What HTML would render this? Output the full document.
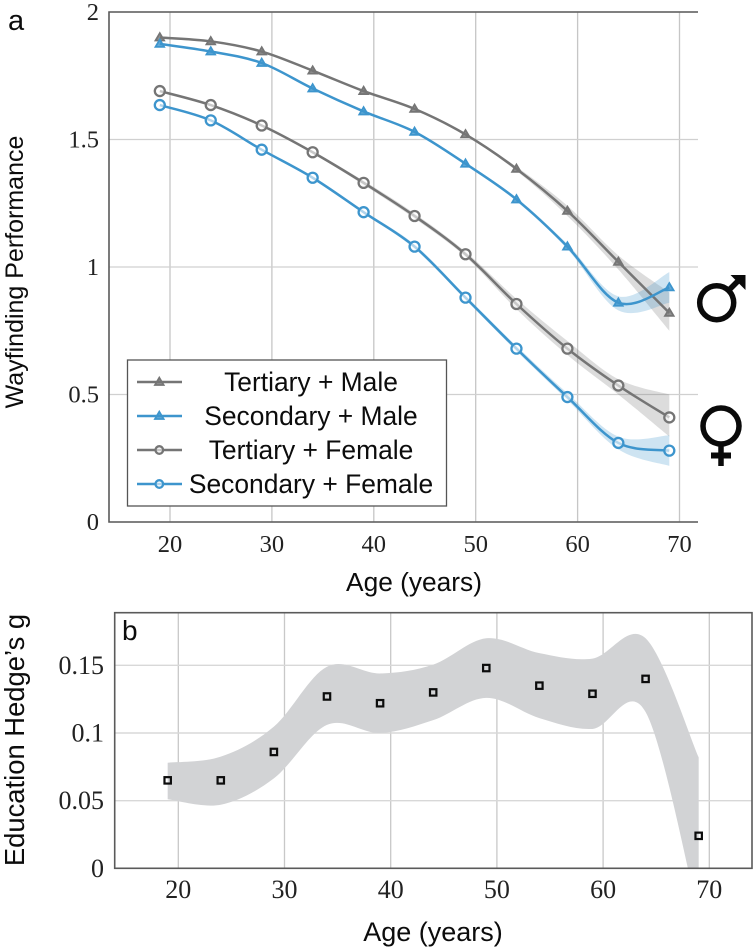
<!DOCTYPE html>
<html lang="en">
<head>
<meta charset="utf-8">
<title>Wayfinding performance by age</title>
<style>
html,body{margin:0;padding:0;background:#fff;}
body{width:756px;height:949px;overflow:hidden;}
svg{display:block;}
.sans{font-family:"Liberation Sans",sans-serif;fill:#0c0c0c;}
.serif{font-family:"Liberation Serif",serif;fill:#222;}
</style>
</head>
<body>
<svg id="fig" xmlns="http://www.w3.org/2000/svg" width="756" height="949" viewBox="0 0 756 949">
  <defs>
    <clipPath id="clipB"><rect x="115" y="613" width="637" height="255.5"/></clipPath>
  </defs>
  <g id="panelA"></g>
  <g id="panelB"></g>
  <text class="sans" x="8" y="30" font-size="29">a</text>
  <text class="sans" x="122" y="640" font-size="28">b</text>
  <text class="sans" x="0" y="0" font-size="25" text-anchor="middle" transform="translate(23,272) rotate(-90)">Wayfinding Performance</text>
  <text class="sans" x="414" y="591" font-size="26.3" text-anchor="middle">Age (years)</text>
  <text class="sans" x="0" y="0" font-size="27.4" text-anchor="middle" transform="translate(24,740) rotate(-90)">Education Hedge’s g</text>
  <text class="sans" x="433" y="941" font-size="27" text-anchor="middle">Age (years)</text>
  <g fill="none" stroke="#0a0a0a" stroke-width="5.5">
    <circle cx="716.7" cy="302.7" r="17"/>
    <path d="M729 290L741 278"/>
    <path d="M730.5 275H745.5V290Z" fill="#0a0a0a" stroke="none"/>
  </g>
  <g fill="none" stroke="#0a0a0a" stroke-width="5.5">
    <circle cx="721" cy="426" r="18"/>
    <path d="M721 444V466"/>
    <path d="M711 455.5H731" stroke-width="6"/>
  </g>
</svg>
<script>
var ages = [19, 24, 29, 34, 39, 44, 49, 54, 59, 64, 69];
var xTicks = [20, 30, 40, 50, 60, 70];
var yTicksA = [0, 0.5, 1, 1.5, 2];
var yTicksB = [0, 0.05, 0.1, 0.15];

var tertiaryMale = [1.90, 1.885, 1.845, 1.77, 1.69, 1.62, 1.52, 1.385, 1.22, 1.02, 0.82];
var tertiaryMaleUpper = [1.90, 1.885, 1.845, 1.772, 1.693, 1.625, 1.525, 1.393, 1.24, 1.045, 0.90];
var tertiaryMaleLower = [1.895, 1.88, 1.84, 1.768, 1.687, 1.615, 1.515, 1.377, 1.20, 0.99, 0.75];

var secondaryMale = [1.875, 1.845, 1.80, 1.70, 1.61, 1.53, 1.405, 1.265, 1.08, 0.86, 0.92];
var secondaryMaleUpper = [1.878, 1.848, 1.803, 1.703, 1.613, 1.535, 1.41, 1.272, 1.09, 0.885, 0.98];
var secondaryMaleLower = [1.872, 1.842, 1.797, 1.697, 1.607, 1.525, 1.40, 1.258, 1.07, 0.83, 0.86];

var tertiaryFemale = [1.69, 1.635, 1.555, 1.45, 1.33, 1.20, 1.05, 0.855, 0.68, 0.535, 0.41];
var tertiaryFemaleUpper = [1.693, 1.638, 1.558, 1.455, 1.338, 1.21, 1.06, 0.875, 0.71, 0.56, 0.50];
var tertiaryFemaleLower = [1.687, 1.632, 1.552, 1.445, 1.322, 1.19, 1.04, 0.835, 0.655, 0.50, 0.335];

var secondaryFemale = [1.635, 1.575, 1.46, 1.35, 1.215, 1.08, 0.88, 0.68, 0.49, 0.31, 0.28];
var secondaryFemaleUpper = [1.637, 1.578, 1.463, 1.354, 1.22, 1.088, 0.888, 0.69, 0.505, 0.335, 0.34];
var secondaryFemaleLower = [1.633, 1.572, 1.457, 1.346, 1.21, 1.072, 0.872, 0.67, 0.478, 0.285, 0.22];

var hedgesG = [0.065, 0.065, 0.086, 0.127, 0.122, 0.130, 0.148, 0.135, 0.129, 0.140, 0.024];
var hedgesUpper = [0.078, 0.0825, 0.1047, 0.149, 0.144, 0.1505, 0.170, 0.159, 0.155, 0.170, 0.082];
var hedgesLower = [0.051, 0.047, 0.0665, 0.106, 0.100, 0.1095, 0.126, 0.111, 0.103, 0.1155, -0.035];

var legendLabels = ["Tertiary + Male", "Secondary + Male", "Tertiary + Female", "Secondary + Female"];

var GREY = "#757575";
var BLUE = "#3d95cd";
var NS = "http://www.w3.org/2000/svg";

function xA(v) { return 170 + (v - 20) * 10.19; }
function yA(v) { return 522 - v * 255; }
function xB(v) { return 178.3 + (v - 20) * 10.62; }
function yB(v) { return 868.3 - v * 1353; }

function make(tag, attrs, parent) {
  var e = document.createElementNS(NS, tag);
  for (var k in attrs) { e.setAttribute(k, attrs[k]); }
  parent.appendChild(e);
  return e;
}

function segs(p) {
  var s = "";
  for (var i = 0; i < p.length - 1; i++) {
    var p0 = p[Math.max(i - 1, 0)], p1 = p[i], p2 = p[i + 1], p3 = p[Math.min(i + 2, p.length - 1)];
    var c1x = p1[0] + (p2[0] - p0[0]) / 6, c1y = p1[1] + (p2[1] - p0[1]) / 6;
    var c2x = p2[0] - (p3[0] - p1[0]) / 6, c2y = p2[1] - (p3[1] - p1[1]) / 6;
    s += "C" + c1x.toFixed(2) + " " + c1y.toFixed(2) + " " + c2x.toFixed(2) + " " + c2y.toFixed(2) + " " + p2[0].toFixed(2) + " " + p2[1].toFixed(2);
  }
  return s;
}

function pts(xs, ys, fx, fy) {
  return xs.map(function (x, i) { return [fx(x), fy(ys[i])]; });
}

function linePath(p) {
  return "M" + p[0][0].toFixed(2) + " " + p[0][1].toFixed(2) + segs(p);
}

function bandPath(up, lo) {
  var rev = lo.slice().reverse();
  return linePath(up) + "L" + rev[0][0].toFixed(2) + " " + rev[0][1].toFixed(2) + segs(rev) + "Z";
}

function triangle(parent, x, y, color) {
  var t = make("path", { d: "M" + x + " " + (y - 4.3) + "L" + (x + 4.3) + " " + (y + 3) + "H" + (x - 4.3) + "Z", fill: color, "fill-opacity": "0.8", stroke: color, "stroke-width": "1.8" }, parent);
  
  
}

function ring(parent, x, y, r, color) {
  var c = make("circle", { cx: x, cy: y, r: r, fill: "#fff", "fill-opacity": "0.6", stroke: color, "stroke-width": "2.3" }, parent);
  
  
}

/* ---------- panel a ---------- */
var A = document.getElementById("panelA");
xTicks.forEach(function (t) {
  var g = make("line", { x1: xA(t), x2: xA(t), y1: 12, y2: 522, stroke: "#c6c6c6", "stroke-width": "1.3" }, A);
  
  
  var l = make("text", { x: xA(t), y: 552, "font-size": "24.5", "text-anchor": "middle", "class": "serif" }, A);
  
  
  l.textContent = t;
});
yTicksA.forEach(function (t) {
  var g = make("line", { x1: 109, x2: 698, y1: yA(t), y2: yA(t), stroke: "#d0d0d0", "stroke-width": "1.3" }, A);
  
  
  var l = make("text", { x: 99, y: yA(t) + 8, "font-size": "24.5", "text-anchor": "end", "class": "serif" }, A);
  
  
  l.textContent = t;
});

var seriesA = [
  { name: "tertiary-male", v: tertiaryMale, u: tertiaryMaleUpper, l: tertiaryMaleLower, c: GREY, m: "t" },
  { name: "secondary-male", v: secondaryMale, u: secondaryMaleUpper, l: secondaryMaleLower, c: BLUE, m: "t" },
  { name: "tertiary-female", v: tertiaryFemale, u: tertiaryFemaleUpper, l: tertiaryFemaleLower, c: GREY, m: "c" },
  { name: "secondary-female", v: secondaryFemale, u: secondaryFemaleUpper, l: secondaryFemaleLower, c: BLUE, m: "c" }
];

seriesA.forEach(function (s) {
  var band = make("path", { d: bandPath(pts(ages, s.u, xA, yA), pts(ages, s.l, xA, yA)), fill: s.c, "fill-opacity": "0.25", stroke: "none" }, A);
  
  
});
seriesA.forEach(function (s) {
  var line = make("path", { d: linePath(pts(ages, s.v, xA, yA)), fill: "none", stroke: s.c, "stroke-width": "2.5" }, A);
  
  
  ages.forEach(function (a, i) {
    if (s.m === "t") { triangle(A, xA(a), yA(s.v[i]), s.c); }
    else { ring(A, xA(a), yA(s.v[i]), 5, s.c); }
  });
});

var axisA = make("path", { d: "M698 12H109V522H698", fill: "none", stroke: "#5a5a5a", "stroke-width": "1.6" }, A);



var legend = make("g", {}, A);


var legendBox = make("rect", { x: 127.5, y: 360, width: 319, height: 146, fill: "#fff", stroke: "#555", "stroke-width": "1.3" }, legend);


legendLabels.forEach(function (label, i) {
  var y = 382 + i * 34;
  var s = seriesA[i];
  var key = make("line", { x1: 137, x2: 182, y1: y, y2: y, stroke: s.c, "stroke-width": "2.5" }, legend);
  
  
  if (s.m === "t") { triangle(legend, 159.3, y, s.c); }
  else { ring(legend, 159.3, y, 3.8, s.c); }
  var tx = make("text", { x: 311, y: y + 9, "font-size": "26.4", "text-anchor": "middle", "class": "sans" }, legend);
  
  
  tx.textContent = label;
});

/* ---------- panel b ---------- */
var B = document.getElementById("panelB");
xTicks.forEach(function (t) {
  var g = make("line", { x1: xB(t), x2: xB(t), y1: 613, y2: 868, stroke: "#c8c8c8", "stroke-width": "1.3" }, B);
  
  
  var l = make("text", { x: xB(t), y: 898, "font-size": "26", "text-anchor": "middle", "class": "serif" }, B);
  
  
  l.textContent = t;
});
yTicksB.forEach(function (t) {
  var g = make("line", { x1: 115, x2: 752, y1: yB(t), y2: yB(t), stroke: "#d8d8d8", "stroke-width": "1.4" }, B);
  
  
  var l = make("text", { x: 104, y: yB(t) + 8.5, "font-size": "26", "text-anchor": "end", "class": "serif" }, B);
  
  
  l.textContent = t;
});
var bandB = make("path", { d: bandPath(pts(ages, hedgesUpper, xB, yB), pts(ages, hedgesLower, xB, yB)), fill: "#d2d3d5", stroke: "none", "clip-path": "url(#clipB)" }, B);


ages.forEach(function (a, i) {
  var sq = make("rect", { x: xB(a) - 3.2, y: yB(hedgesG[i]) - 3.2, width: 6.4, height: 6.4, fill: "none", stroke: "#0c0c0c", "stroke-width": "2.2" }, B);
  
  
});
var frameB = make("rect", { x: 114.7, y: 612.7, width: 637.3, height: 255.6, fill: "none", stroke: "#5a5a5a", "stroke-width": "1.6" }, B);


</script>
</body>
</html>
